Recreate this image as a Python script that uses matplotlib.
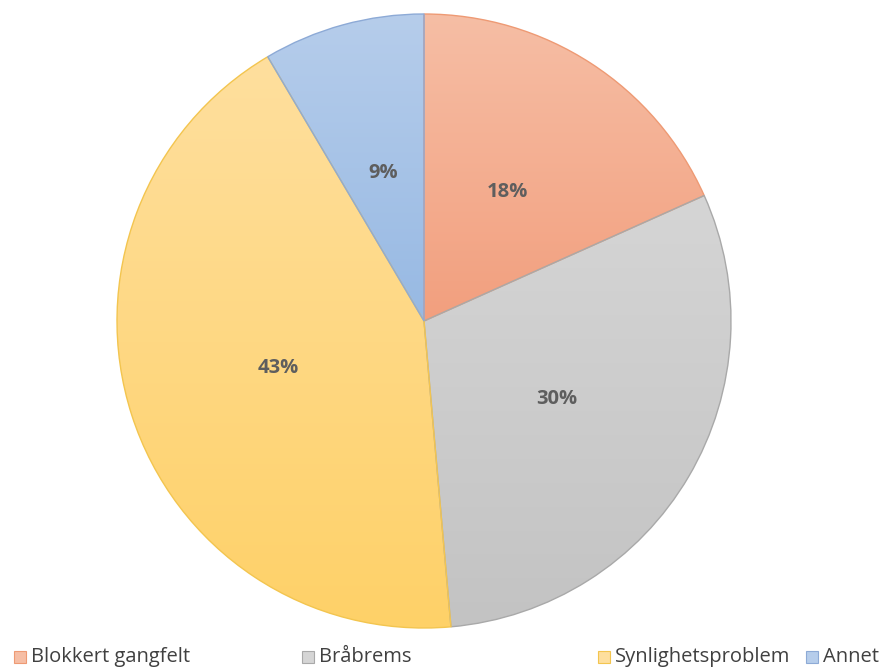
import numpy as np
import matplotlib.pyplot as plt
from matplotlib.colors import LinearSegmentedColormap
from matplotlib.patches import Rectangle

categories = ["Blokkert gangfelt", "Bråbrems", "Synlighetsproblem", "Annet"]
shares = [18.3, 30.3, 42.9, 8.5]
pct_labels = ["18%", "30%", "43%", "9%"]

# top / bottom gradient colours and outline colours per slice
top_colors = ["#F6BEA5", "#D5D5D5", "#FEDF9E", "#B6CDEB"]
bottom_colors = ["#F29F7E", "#C3C3C3", "#FFD168", "#97B9E3"]
edge_colors = ["#EE9A74", "#A9A9A9", "#F3C54F", "#8DAAD6"]
legend_x = [14, 302, 598, 806]

plt.rcParams['font.family'] = ['Open Sans', 'DejaVu Sans']

fig = plt.figure(figsize=(8.85, 6.68), dpi=100)
W, H = 885, 668
cx, cy, r = 424, 321, 307
ax = fig.add_axes([(cx - r) / W, (H - cy - r) / H, 2 * r / W, 2 * r / H])

wedges, texts = ax.pie(
    shares, startangle=90, counterclock=False, radius=1,
    wedgeprops=dict(linewidth=1.0))

for i, w in enumerate(wedges):
    path = w.get_patch_transform().transform_path(w.get_path())
    ext = path.get_extents()
    cmap = LinearSegmentedColormap.from_list("g%d" % i, [bottom_colors[i], top_colors[i]])
    grad = np.linspace(0, 1, 256).reshape(-1, 1)
    im = ax.imshow(grad, cmap=cmap, origin="lower", aspect="auto",
                   extent=(ext.x0, ext.x1, ext.y0, ext.y1), zorder=0.5,
                   interpolation="bilinear")
    im.set_clip_path(w)
    w.set_facecolor("none")
    w.set_edgecolor(edge_colors[i])
    w.set_zorder(1)

    # percentage label at half radius along the slice bisector
    mid = np.deg2rad((w.theta1 + w.theta2) / 2)
    ax.text(0.5 * np.cos(mid), 0.5 * np.sin(mid), pct_labels[i],
            ha="center", va="center", fontsize=14.5, fontweight="bold",
            color="#5E5E5E", zorder=3)

ax.set_xlim(-1, 1)
ax.set_ylim(-1, 1)
ax.set_aspect("equal")
ax.axis("off")

# legend along the bottom edge
ly = 657
sq = 12
for i, name in enumerate(categories):
    x0 = legend_x[i]
    fig.patches.append(Rectangle((x0 / W, (H - ly - sq / 2) / H), sq / W, sq / H,
                                 transform=fig.transFigure, facecolor=top_colors[i],
                                 edgecolor=edge_colors[i], linewidth=0.8))
    fig.text((x0 + sq + 5) / W, (H - ly) / H, name, fontsize=14.5,
             color="#404040", va="center", ha="left")

fig.savefig("out.png", dpi=100)
